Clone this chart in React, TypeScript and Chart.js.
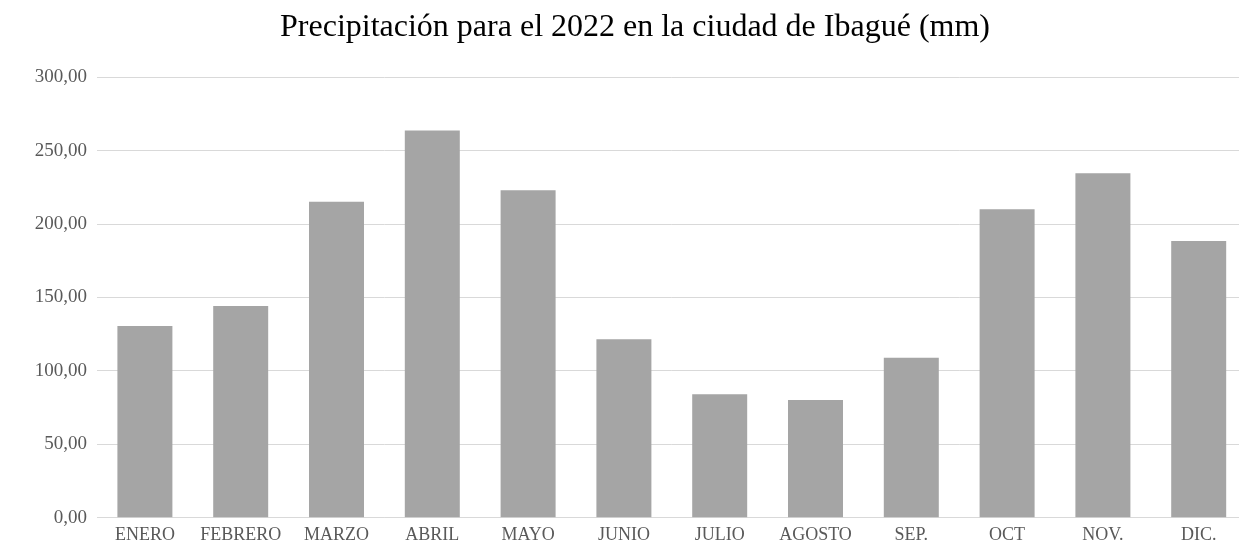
import React, { useEffect, useRef } from "react";
import { Chart, registerables } from "chart.js";

Chart.register(...registerables);

const months = ["ENERO", "FEBRERO", "MARZO", "ABRIL", "MAYO", "JUNIO", "JULIO", "AGOSTO", "SEP.", "OCT", "NOV.", "DIC."];
const precipitation = [130.6, 144.2, 215.3, 263.7, 223.0, 121.5, 84.1, 80.2, 109.0, 210.1, 234.6, 188.5];
const yTicks = [0, 50, 100, 150, 200, 250, 300];
const titleText = "Precipitación para el 2022 en la ciudad de Ibagué (mm)";

const fmt = (v: number) => v.toFixed(2).replace(".", ",");

export default function App() {
  const ref = useRef<HTMLCanvasElement | null>(null);
  useEffect(() => {
    document.body.style.overflow = "hidden";
    const ctx = ref.current!;
    const chart = new Chart(ctx, {
      type: "bar",
      data: {
        labels: months,
        datasets: [
          {
            data: precipitation,
            backgroundColor: "#A5A5A5",
            borderWidth: 0,
            barPercentage: 0.574,
            categoryPercentage: 1,
          },
        ],
      },
      options: {
        responsive: false,
        animation: false,
        devicePixelRatio: 1,
        layout: { padding: { left: 23.4, right: 25.4, top: 0, bottom: 0 } },
        plugins: {
          legend: { display: false },
          tooltip: { enabled: false },
          title: {
            display: true,
            text: titleText,
            color: "#000000",
            font: { family: "'Liberation Serif', 'Times New Roman', serif", size: 32, weight: "normal", lineHeight: 1.2 },
            padding: { top: 8.3, bottom: 30.6 },
          },
        },
        scales: {
          x: {
            grid: { display: false, drawTicks: false },
            border: { display: true, color: "#D9D9D9", width: 1 },
            ticks: {
              color: "#595959",
              font: { family: "'Liberation Serif', 'Times New Roman', serif", size: 18 },
              padding: 7,
              maxRotation: 0,
              autoSkip: false,
            },
            afterFit: (s: any) => {
              s.height = 23.3;
            },
          },
          y: {
            min: 0,
            max: 300,
            afterBuildTicks: (s: any) => {
              s.ticks = yTicks.map((v) => ({ value: v }));
            },
            grid: { color: "#D9D9D9", lineWidth: 1, drawTicks: false },
            border: { display: false },
            ticks: {
              color: "#595959",
              font: { family: "'Liberation Serif', 'Times New Roman', serif", size: 19 },
              padding: 10,
              callback: (v: any) => fmt(Number(v)),
            },
            afterFit: (s: any) => {
              s.width = 73.6;
            },
          },
        },
      },
    });
    return () => chart.destroy();
  }, []);
  return (
    <div style={{ position: "fixed", left: 0, top: 0, width: 1239, height: 541, overflow: "hidden", background: "#fff" }}>
      <canvas ref={ref} width={1272} height={541} style={{ display: "block" }} />
    </div>
  );
}
